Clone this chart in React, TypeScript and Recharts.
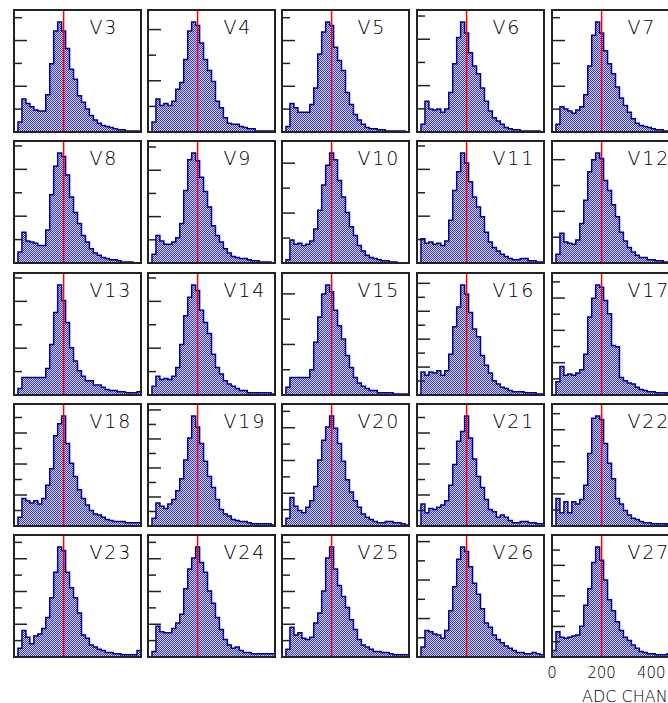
import React from 'react';
import { ComposedChart, Area, Line, XAxis, YAxis, ReferenceLine } from 'recharts';

// ADC channel bin edges (16 channels per bin, 0..512)
const binEdges = [0, 16, 32, 48, 64, 80, 96, 112, 128, 144, 160, 176, 192, 208, 224, 240, 256, 272, 288, 304, 320, 336, 352, 368, 384, 400, 416, 432, 448, 464, 480, 496, 512];

const panelNames = ['V3', 'V4', 'V5', 'V6', 'V7', 'V8', 'V9', 'V10', 'V11', 'V12', 'V13', 'V14', 'V15', 'V16', 'V17', 'V18', 'V19', 'V20', 'V21', 'V22', 'V23', 'V24', 'V25', 'V26', 'V27'];

// counts per bin, relative to each histogram's peak (= 100)
const V3 = [0, 9, 30, 26, 23, 20, 19, 19, 34, 62, 92, 100, 92, 76, 57, 48, 33, 27, 21, 15, 11, 8, 6, 5, 4, 3, 2, 2, 1, 1, 1, 1];
const V4 = [0, 9, 30, 24, 26, 24, 28, 39, 45, 66, 92, 100, 97, 81, 66, 56, 46, 28, 22, 13, 8, 7, 7, 5, 4, 3, 3, 1, 1, 1, 1, 1];
const V5 = [0, 5, 26, 22, 18, 18, 18, 25, 40, 71, 91, 100, 97, 77, 65, 56, 36, 25, 16, 11, 7, 4, 3, 3, 2, 2, 1, 1, 1, 1, 1, 0];
const V6 = [0, 7, 28, 21, 20, 21, 18, 21, 36, 62, 86, 100, 90, 72, 60, 53, 40, 28, 19, 13, 10, 7, 4, 3, 2, 2, 1, 1, 1, 1, 1, 0];
const V7 = [0, 7, 23, 21, 19, 17, 20, 23, 34, 60, 88, 100, 90, 74, 62, 53, 41, 31, 24, 18, 12, 8, 6, 5, 4, 3, 2, 2, 1, 1, 1, 1];
const V8 = [0, 10, 28, 20, 19, 18, 16, 16, 30, 62, 88, 100, 97, 80, 60, 46, 36, 25, 19, 13, 9, 7, 5, 4, 3, 3, 2, 1, 1, 1, 0, 0];
const V9 = [0, 8, 25, 20, 17, 17, 19, 23, 36, 66, 94, 100, 93, 78, 65, 51, 34, 25, 19, 13, 9, 6, 5, 4, 4, 3, 2, 2, 1, 1, 1, 0];
const V10 = [0, 3, 21, 17, 18, 16, 17, 20, 31, 48, 71, 89, 100, 94, 75, 60, 46, 33, 25, 16, 11, 7, 5, 4, 3, 2, 2, 1, 1, 0, 0, 0];
const V11 = [0, 22, 18, 19, 17, 18, 16, 20, 39, 66, 83, 100, 91, 74, 60, 51, 42, 28, 19, 14, 11, 8, 6, 4, 3, 3, 4, 4, 2, 2, 1, 1];
const V12 = [0, 8, 27, 19, 18, 17, 21, 36, 57, 83, 94, 100, 95, 75, 66, 53, 42, 28, 20, 14, 10, 7, 5, 5, 3, 3, 2, 2, 1, 1, 1, 1];
const V13 = [0, 6, 16, 16, 16, 16, 16, 16, 24, 46, 75, 100, 86, 66, 43, 31, 22, 17, 13, 13, 9, 9, 7, 5, 4, 4, 3, 3, 2, 2, 2, 3];
const V14 = [0, 8, 17, 14, 15, 14, 17, 25, 46, 72, 89, 100, 95, 77, 66, 56, 37, 25, 19, 13, 10, 8, 6, 4, 4, 2, 2, 2, 2, 2, 2, 1];
const V15 = [0, 7, 16, 16, 16, 16, 16, 23, 48, 71, 92, 100, 94, 77, 63, 51, 36, 25, 16, 11, 8, 6, 4, 4, 2, 2, 2, 2, 1, 1, 1, 1];
const V16 = [0, 21, 18, 21, 20, 22, 18, 22, 37, 62, 80, 100, 92, 75, 60, 53, 36, 27, 20, 13, 10, 7, 6, 4, 3, 3, 3, 2, 2, 2, 1, 1];
const V17 = [0, 12, 26, 18, 19, 18, 20, 23, 37, 71, 88, 100, 98, 86, 74, 45, 44, 16, 13, 11, 10, 7, 5, 4, 3, 3, 2, 2, 2, 1, 1, 1];
const V18 = [0, 8, 25, 23, 21, 23, 20, 25, 37, 52, 82, 93, 100, 75, 57, 45, 33, 25, 19, 14, 11, 10, 8, 6, 5, 4, 4, 4, 3, 3, 3, 3];
const V19 = [0, 7, 21, 18, 16, 20, 24, 32, 43, 60, 80, 100, 90, 75, 59, 45, 35, 24, 15, 11, 9, 6, 5, 4, 4, 3, 2, 2, 2, 2, 2, 1];
const V20 = [0, 7, 26, 18, 14, 12, 17, 23, 36, 60, 78, 90, 100, 89, 75, 59, 42, 31, 23, 17, 11, 8, 6, 4, 3, 3, 4, 4, 3, 3, 2, 1];
const V21 = [0, 20, 12, 16, 15, 17, 19, 23, 37, 56, 77, 86, 100, 80, 61, 45, 35, 24, 15, 13, 8, 10, 8, 5, 3, 3, 4, 4, 3, 3, 2, 2];
const V22 = [0, 25, 12, 22, 12, 22, 20, 24, 37, 66, 98, 100, 97, 75, 57, 43, 25, 20, 14, 10, 7, 6, 4, 3, 3, 2, 2, 2, 2, 1, 1, 1];
const V23 = [0, 8, 24, 18, 12, 19, 21, 26, 36, 54, 77, 100, 97, 77, 63, 54, 40, 20, 17, 11, 9, 7, 6, 4, 4, 3, 3, 2, 2, 2, 2, 6];
const V24 = [0, 5, 28, 23, 22, 22, 26, 31, 39, 62, 80, 90, 100, 86, 77, 60, 49, 36, 25, 16, 11, 8, 9, 6, 4, 4, 3, 3, 3, 3, 3, 3];
const V25 = [0, 7, 27, 20, 22, 17, 16, 18, 31, 40, 60, 90, 100, 80, 65, 55, 45, 34, 25, 16, 11, 9, 7, 5, 5, 4, 4, 3, 2, 2, 2, 2];
const V26 = [0, 9, 24, 23, 21, 20, 17, 24, 42, 64, 89, 100, 96, 82, 67, 57, 44, 31, 27, 20, 16, 13, 10, 8, 6, 4, 4, 3, 3, 4, 3, 2];
const V27 = [6, 23, 18, 17, 18, 19, 20, 28, 47, 62, 86, 100, 88, 70, 52, 42, 32, 24, 18, 15, 11, 8, 5, 4, 3, 3, 2, 2, 2, 3, 3, 3];

const panelValues = [V3, V4, V5, V6, V7, V8, V9, V10, V11, V12, V13, V14, V15, V16, V17, V18, V19, V20, V21, V22, V23, V24, V25, V26, V27];

// spacing of the (unlabelled) y ticks, in the same relative units
const tickSpacing = [
  20.8, 23.3, 20.8, 21.1, 20.8,
  21.3, 21.1, 22.7, 21.3, 23.5,
  21.3, 21.3, 23.0, 12.7, 14.7,
  14.1, 13.2, 14.9, 14.1, 14.6,
  14.9, 14.9, 14.9, 17.5, 13.9,
];

const xTicks = [0, 200, 400];
const markerChannel = 200;
const xAxisTitle = 'ADC CHANNEL';
const yTop = 111;

const COL_X = [14, 148, 282, 417, 552];
const ROW_Y = [10, 141, 273, 404, 535];
const PW = 127;
const PH = 122;
const FONT = "'DejaVu Sans', sans-serif";

function YTick(props: any) {
  const { x, y, index } = props;
  const len = index % 2 === 1 ? 13 : 8;
  return <line x1={x} x2={x + len} y1={y} y2={y} stroke="#222" strokeWidth={1.5} />;
}

function Panel({ i }: { i: number }) {
  const vals = panelValues[i];
  const rows = binEdges.map((x, k) => ({ x, v: vals[Math.min(k, vals.length - 1)] }));
  const step = tickSpacing[i];
  const yTicks: number[] = [];
  for (let t = step; t < yTop; t += step) yTicks.push(Number(t.toFixed(2)));
  const last = i === panelNames.length - 1;
  const extraH = last ? 75 : 0;
  const extraR = last ? 150 : 0;
  const extraL = last ? 20 : 0;
  const id = `hfill${i}`;
  return (
    <div style={{ position: 'absolute', left: COL_X[i % 5] - extraL, top: ROW_Y[Math.floor(i / 5)] }}>
      <ComposedChart
        width={PW + extraR + extraL}
        height={PH + extraH}
        data={rows}
        margin={{ top: 0, right: extraR, bottom: 0, left: extraL }}
      >
        <defs>
          <pattern id={id} x={extraL} width={2} height={2} patternUnits="userSpaceOnUse">
            <rect width={2} height={2} fill="#d2d2f6" />
            <rect width={1} height={1} fill="#3a3ac4" />
            <rect x={1} y={1} width={1} height={1} fill="#3a3ac4" />
          </pattern>
        </defs>
        <Area
          type="stepAfter"
          dataKey="v"
          stroke="#000090"
          strokeWidth={1.5}
          fill={`url(#${id})`}
          fillOpacity={1}
          isAnimationActive={false}
          dot={false}
          activeDot={false}
        />
        {last && (
          <Line xAxisId="lbl" dataKey="v" stroke="none" dot={false} activeDot={false} isAnimationActive={false} />
        )}
        <XAxis
          dataKey="x"
          type="number"
          domain={[0, 512]}
          ticks={xTicks}
          mirror
          height={1}
          tickSize={12}
          tick={false}
          axisLine={false}
          tickLine={{ stroke: '#222', strokeWidth: 1.5 }}
          interval={0}
          allowDataOverflow
        />
        {last && (
          <XAxis
            xAxisId="lbl"
            dataKey="x"
            type="number"
            domain={[0, 512]}
            ticks={xTicks}
            height={75}
            axisLine={false}
            tickLine={false}
            tickSize={4}
            tickMargin={6}
            interval={0}
            tick={{ fill: '#000', fontSize: 15, fontFamily: FONT, fontWeight: 200 }}
            label={{ value: xAxisTitle, position: 'insideBottomLeft', offset: 30, fill: '#000', fontSize: 16, fontFamily: FONT, fontWeight: 200 }}
            allowDataOverflow
          />
        )}
        <YAxis
          type="number"
          domain={[0, yTop]}
          ticks={yTicks}
          mirror
          tickSize={0}
          tickMargin={0}
          axisLine={false}
          tickLine={false}
          tick={<YTick />}
          interval={0}
          allowDataOverflow
        />
        <ReferenceLine x={markerChannel} stroke="#ff0000" strokeWidth={1.5} />
      </ComposedChart>
    </div>
  );
}

export default function App() {
  return (
    <div style={{ position: 'fixed', left: 0, top: 0, width: 668, height: 703, overflow: 'hidden', background: '#fff' }}>
      {panelNames.map((n, i) => (
        <Panel key={n} i={i} />
      ))}
      <svg width={668} height={703} style={{ position: 'absolute', left: 0, top: 0, pointerEvents: 'none' }}>
        {panelNames.map((n, i) => {
          const L = COL_X[i % 5];
          const T = ROW_Y[Math.floor(i / 5)];
          return (
            <g key={n}>
              <rect x={L} y={T} width={PW} height={PH} fill="none" stroke="#222" strokeWidth={2} />
              <text x={L + 75.5} y={T + 23.8} fontSize={19} fontFamily={FONT} fontWeight={200} letterSpacing={1.8} fill="#000">
                {n}
              </text>
            </g>
          );
        })}
      </svg>
    </div>
  );
}
